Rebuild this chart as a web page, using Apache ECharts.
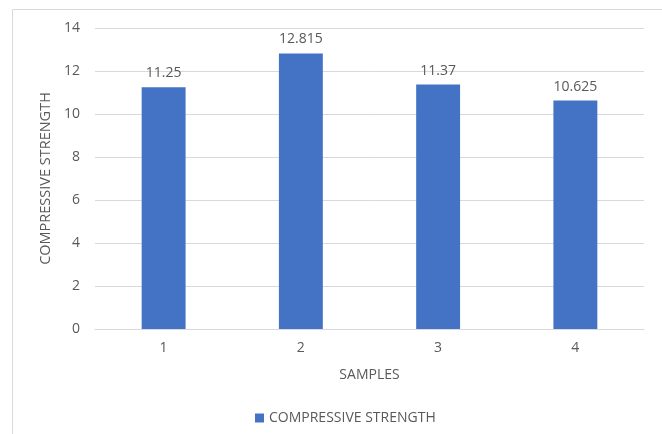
<!DOCTYPE html>
<html>
<head>
<meta charset="utf-8">
<script src="https://cdn.jsdelivr.net/npm/echarts@6/dist/echarts.min.js"></script>
<style>
  html, body { margin: 0; padding: 0; background: #fff; }
  #chart { width: 662px; height: 434px; }
</style>
</head>
<body>
<div id="chart"></div>
<script>
// Sample numbers along the category axis
const samples = ['1', '2', '3', '4'];
// Compressive strength measured for each sample
const strength = [11.25, 12.815, 11.37, 10.625];
const seriesName = 'COMPRESSIVE STRENGTH';
const xTitle = 'SAMPLES';
const yTitle = 'COMPRESSIVE STRENGTH';

const textColor = '#595959';
const fontFamily = '"Open Sans", "Noto Sans", sans-serif';

const chart = echarts.init(document.getElementById('chart'), null, { renderer: 'canvas' });
chart.setOption({
  animation: false,
  backgroundColor: '#ffffff',
  graphic: [{
    type: 'rect',
    shape: { x: 12.5, y: 9.5, width: 700, height: 500 },
    style: { fill: 'none', stroke: '#d9d9d9', lineWidth: 1 },
    silent: true
  }],
  grid: { left: 95, right: 18, top: 28, bottom: 105 },
  legend: {
    bottom: 4,
    left: 250,
    itemWidth: 9,
    itemHeight: 9,
    itemGap: 5,
    textStyle: { color: textColor, fontSize: 14, fontFamily: fontFamily },
    data: [{ name: seriesName, icon: 'rect' }]
  },
  xAxis: {
    type: 'category',
    data: samples,
    name: xTitle,
    nameLocation: 'middle',
    nameGap: 39,
    nameTextStyle: { color: textColor, fontSize: 14, fontFamily: fontFamily },
    axisLine: { lineStyle: { color: '#d9d9d9' } },
    axisTick: { show: false },
    axisLabel: { color: textColor, fontSize: 14, margin: 12, fontFamily: fontFamily }
  },
  yAxis: {
    type: 'value',
    min: 0,
    max: 14,
    interval: 2,
    name: yTitle,
    nameLocation: 'middle',
    nameGap: 38,
    nameRotate: 90,
    nameTextStyle: { color: textColor, fontSize: 14.5, fontFamily: fontFamily },
    axisLine: { show: false },
    axisTick: { show: false },
    axisLabel: { color: textColor, fontSize: 14, margin: 15, fontFamily: fontFamily },
    splitLine: { lineStyle: { color: '#d9d9d9', width: 1 } }
  },
  series: [{
    name: seriesName,
    type: 'bar',
    data: strength,
    barWidth: '32%',
    itemStyle: { color: '#4472c4' },
    label: {
      show: true,
      position: 'top',
      distance: 7,
      color: textColor,
      fontSize: 14,
      fontFamily: fontFamily,
      formatter: p => String(p.value)
    }
  }]
});
</script>
</body>
</html>
